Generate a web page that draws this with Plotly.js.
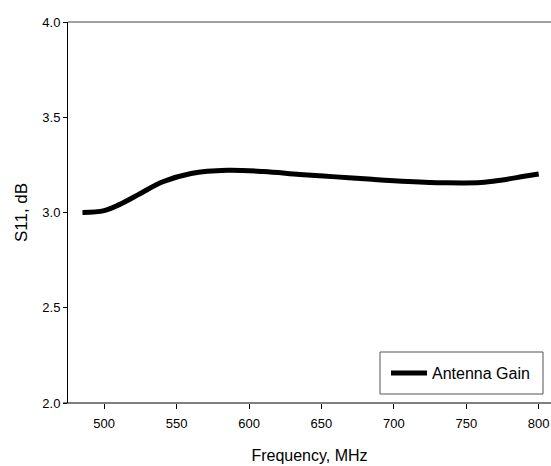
<!DOCTYPE html>
<html>
<head>
<meta charset="utf-8">
<script src="https://cdn.plot.ly/plotly-3.0.1.min.js"></script>
<style>html,body{margin:0;padding:0;background:#fff;}#chart{width:551px;height:466px;}</style>
</head>
<body>
<div id="chart"></div>
<script>
const frequency = [485, 500, 510, 525, 540, 560, 585, 610, 635, 660, 685, 710, 735, 760, 775, 790, 800];
const gain = [3.00, 3.01, 3.04, 3.10, 3.16, 3.205, 3.222, 3.215, 3.20, 3.187, 3.174, 3.163, 3.156, 3.157, 3.171, 3.19, 3.202];
const xTicks = [500, 550, 600, 650, 700, 750, 800];
const yTicks = [2.0, 2.5, 3.0, 3.5, 4.0];
const yTickText = ['2.0', '2.5', '3.0', '3.5', '4.0'];

const font = 'Liberation Sans, Arial, sans-serif';
const plotW = 551 - 68;
const plotH = 403 - 22;

const trace = {
  x: frequency, y: gain, type: 'scatter', mode: 'lines',
  name: 'Antenna Gain',
  line: {color: '#000', width: 5, shape: 'spline', smoothing: 1}
};

const layout = {
  width: 551, height: 466,
  margin: {l: 68, r: 0, t: 22, b: 63},
  paper_bgcolor: '#fff', plot_bgcolor: '#fff',
  font: {family: font, color: '#000', size: 13},
  showlegend: true,
  legend: {
    x: (386 - 68) / plotW, xanchor: 'left',
    y: (403 - 373) / plotH, yanchor: 'middle',
    itemwidth: 36,
    bgcolor: 'rgba(0,0,0,0)', borderwidth: 0,
    font: {family: font, size: 16, color: '#000'}
  },
  xaxis: {
    range: [475, 808.5], tickvals: xTicks,
    showgrid: false, zeroline: false, showline: false,
    ticks: 'outside', ticklen: 5, tickcolor: '#000', tickwidth: 1,
    ticklabelstandoff: 3,
    tickfont: {family: font, size: 13},
    title: {text: 'Frequency, MHz', font: {family: font, size: 16}, standoff: 20}
  },
  yaxis: {
    range: [2, 4], tickvals: yTicks, ticktext: yTickText,
    showgrid: false, zeroline: false, showline: true, linecolor: '#000', linewidth: 1,
    ticks: 'outside', ticklen: 4, tickcolor: '#000', tickwidth: 1,
    tickfont: {family: font, size: 13},
    title: {text: 'S11, dB', font: {family: font, size: 17}, standoff: 10}
  },
  shapes: [
    {type: 'line', xref: 'paper', yref: 'paper', x0: 0, x1: 1.01, y0: 1, y1: 1,
     line: {color: '#808080', width: 1.5}},
    {type: 'line', xref: 'paper', yref: 'paper', x0: -5 / plotW, x1: 1.01, y0: 0, y1: 0,
     line: {color: '#000', width: 1}},
    {type: 'rect', xref: 'paper', yref: 'paper',
     x0: (380 - 68) / plotW, x1: (543 - 68) / plotW,
     y0: (403 - 394) / plotH, y1: (403 - 352) / plotH,
     line: {color: '#555', width: 1}, fillcolor: 'rgba(0,0,0,0)'}
  ]
};

Plotly.newPlot('chart', [trace], layout, {displayModeBar: false, staticPlot: true});
</script>
</body>
</html>
